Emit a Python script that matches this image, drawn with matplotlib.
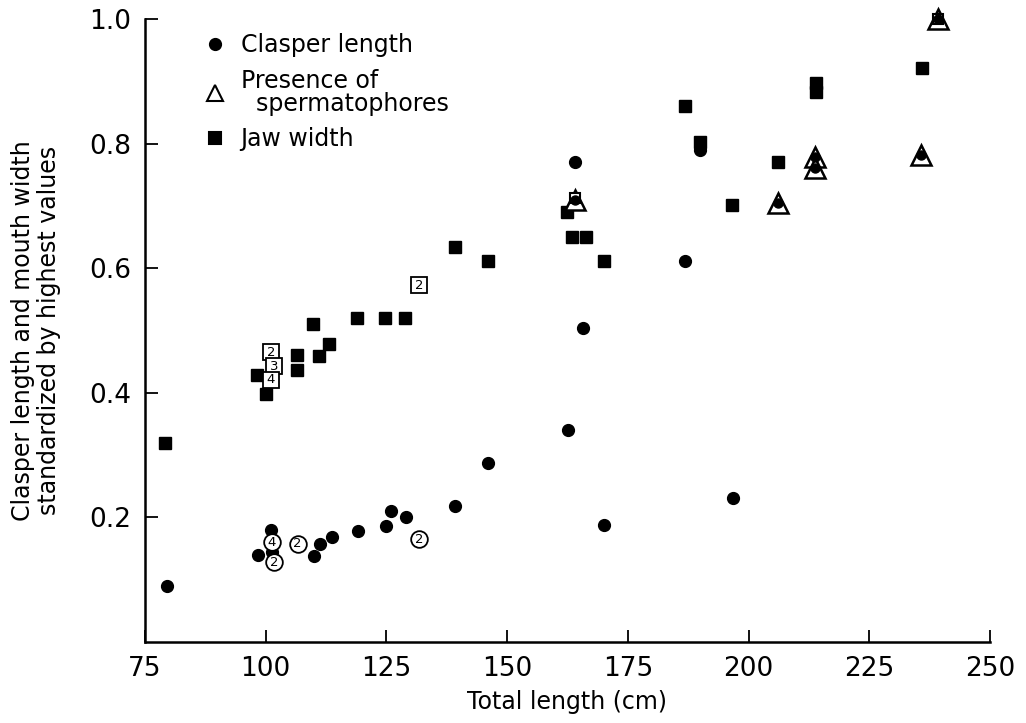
import matplotlib
matplotlib.use("Agg")
import matplotlib.pyplot as plt

# clasper length (filled circles)
clasper_x = [79.5, 98.4, 101.2, 101.4, 110.0, 111.2, 113.7, 119.1, 125.0, 125.9,
             129.0, 139.3, 146.0, 162.6, 164.0, 165.7, 170.0, 186.9, 190.0, 196.8]
clasper_y = [0.090, 0.140, 0.180, 0.144, 0.138, 0.158, 0.168, 0.178, 0.187, 0.211,
             0.201, 0.218, 0.288, 0.340, 0.771, 0.504, 0.188, 0.611, 0.790, 0.231]

# clasper length where spermatophores were present (triangle + dot)
sperm_x = [164.1, 206.2, 213.7, 213.7, 235.8, 239.3]
sperm_y = [0.709, 0.704, 0.779, 0.761, 0.781, 1.000]

# jaw width (filled squares)
jaw_x = [79.1, 98.1, 100.0, 106.4, 106.4, 109.9, 111.0, 113.2, 118.9, 124.7,
         128.8, 139.2, 146.0, 162.3, 163.4, 166.3, 170.1, 186.8, 190.0, 196.5,
         206.2, 213.9, 213.9, 236.0]
jaw_y = [0.320, 0.428, 0.398, 0.461, 0.436, 0.510, 0.459, 0.479, 0.520, 0.520,
         0.520, 0.634, 0.612, 0.691, 0.650, 0.650, 0.612, 0.861, 0.802, 0.702,
         0.771, 0.898, 0.883, 0.922]

# jaw width hidden under spermatophore triangles (drawn open)
jaw_open_x = [164.1, 239.3]
jaw_open_y = [0.712, 1.000]

# points standing for several animals
clasper_n_x = [101.3, 101.7, 106.6, 131.7]
clasper_n_y = [0.160, 0.128, 0.158, 0.165]
clasper_n = ["4", "2", "2", "2"]
jaw_n_x = [101.2, 101.8, 101.1, 131.7]
jaw_n_y = [0.465, 0.443, 0.421, 0.573]
jaw_n = ["2", "3", "4", "2"]

x_ticks = [75, 100, 125, 150, 175, 200, 225, 250]
y_ticks = [0.2, 0.4, 0.6, 0.8, 1.0]

plt.rcParams["font.family"] = "DejaVu Sans"

fig = plt.figure(figsize=(10.26, 7.23), dpi=100)
ax = fig.add_axes([0.1413, 0.1120, 0.8236, 0.8617])

ax.plot(clasper_x, clasper_y, "o", color="black", ms=8.5, ls="none", zorder=3,
        label="Clasper length")
ax.plot(sperm_x, sperm_y, "^", mfc="white", mec="black", mew=1.8, ms=15,
        ls="none", zorder=4, clip_on=False,
        label="Presence of\n  spermatophores")
ax.plot(jaw_open_x, jaw_open_y, "s", mfc="white", mec="black", mew=1.5, ms=7,
        ls="none", zorder=5, clip_on=False)
ax.plot(sperm_x, sperm_y, "o", color="black", ms=6.5, ls="none", zorder=6,
        clip_on=False)
ax.plot(jaw_x, jaw_y, "s", color="black", ms=8.5, ls="none", zorder=3,
        label="Jaw width")

for x, y, n in zip(clasper_n_x, clasper_n_y, clasper_n):
    ax.plot(x, y, "o", mfc="white", mec="black", mew=1.3, ms=12, zorder=5)
    ax.text(x, y, n, ha="center", va="center", fontsize=9.5, zorder=6)
for x, y, n in zip(jaw_n_x, jaw_n_y, jaw_n):
    ax.plot(x, y, "s", mfc="white", mec="black", mew=1.3, ms=11, zorder=5)
    ax.text(x, y, n, ha="center", va="center", fontsize=9.5, zorder=6)

ax.set_xlim(75, 250)
ax.set_ylim(0, 1.0)
ax.set_xticks(x_ticks)
ax.set_xticklabels([str(t) for t in x_ticks])
ax.set_yticks(y_ticks)
ax.set_yticklabels([f"{t:.1f}" for t in y_ticks])
ax.tick_params(direction="in", length=9, width=1.3, labelsize=19, pad=10)
for s in ["top", "right"]:
    ax.spines[s].set_visible(False)
for s in ["left", "bottom"]:
    ax.spines[s].set_linewidth(1.8)

ax.set_xlabel("Total length (cm)", fontsize=17, labelpad=6)
ax.set_ylabel("Clasper length and mouth width\nstandardized by highest values",
              fontsize=17, labelpad=20, linespacing=1.1)

leg = ax.legend(loc="upper left", bbox_to_anchor=(0.06, 0.993), frameon=False,
                fontsize=17, handlelength=0.8, handletextpad=0.7,
                labelspacing=0.5, borderaxespad=0)
for lh, ms in zip(leg.legend_handles, [8, 12, 8]):
    lh.set_markersize(ms)
    lh.set_markeredgewidth(1.5)
for t in leg.get_texts():
    t.set_linespacing(0.95)

fig.savefig("out.png", dpi=100)
